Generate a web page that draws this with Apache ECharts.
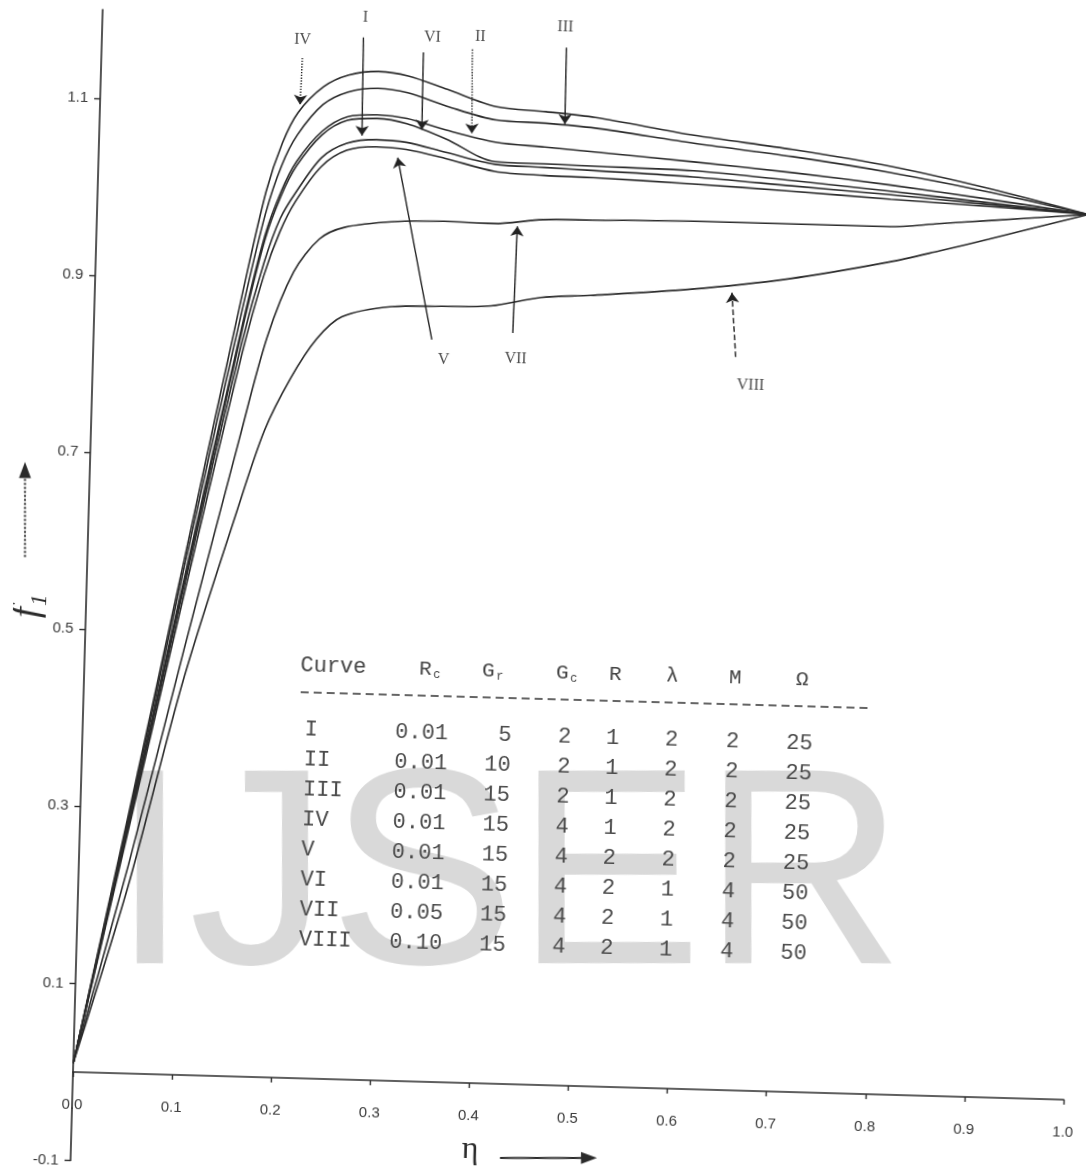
<!DOCTYPE html>
<html>
<head>
<meta charset="utf-8">
<script src="https://cdn.jsdelivr.net/npm/echarts@6/dist/echarts.min.js"></script>
<style>
  html, body { margin: 0; padding: 0; background: #fff; overflow: hidden; }
  /* the scanned figure is slightly turned, so the whole chart is turned about its origin */
  #chart { position: absolute; left: 0; top: 0; width: 1086px; height: 1173px;
           transform-origin: 73px 1072px; transform: rotate(1.6deg); }
</style>
</head>
<body>
<div id="chart"></div>
<script>
// eta grids
const etaMain = [0, 0.05, 0.1, 0.15, 0.17, 0.185, 0.2, 0.225, 0.25, 0.28, 0.31, 0.35, 0.4, 0.45, 0.5, 0.6, 0.7, 0.8, 0.9, 1.0];
const etaLow = [0, 0.05, 0.1, 0.15, 0.175, 0.2, 0.225, 0.25, 0.3, 0.35, 0.4, 0.45, 0.5, 0.6, 0.7, 0.8, 0.85, 0.9, 1.0];

// f1 values
const curveIV = [0.01, 0.30, 0.595, 0.89, 1.0, 1.055, 1.09, 1.12, 1.134, 1.139, 1.135, 1.121, 1.103, 1.099, 1.094, 1.077, 1.064, 1.048, 1.026, 1.0];
const curveIII = [0.01, 0.295, 0.585, 0.87, 0.975, 1.03, 1.065, 1.1, 1.115, 1.12, 1.116, 1.102, 1.088, 1.086, 1.082, 1.068, 1.056, 1.041, 1.022, 1.0];
const curveII = [0.01, 0.29, 0.57, 0.85, 0.95, 1.0, 1.035, 1.07, 1.087, 1.09, 1.087, 1.075, 1.063, 1.059, 1.055, 1.047, 1.038, 1.027, 1.014, 1.0];
const curveVI = [0.01, 0.29, 0.565, 0.845, 0.945, 0.995, 1.03, 1.066, 1.083, 1.086, 1.081, 1.065, 1.041, 1.04, 1.039, 1.037, 1.029, 1.02, 1.01, 1.0];
const curveI = [0.01, 0.285, 0.56, 0.83, 0.92, 0.97, 1.0, 1.04, 1.057, 1.062, 1.06, 1.05, 1.038, 1.036, 1.034, 1.03, 1.023, 1.016, 1.008, 1.0];
const curveV = [0.01, 0.28, 0.55, 0.815, 0.905, 0.955, 0.99, 1.03, 1.049, 1.054, 1.052, 1.043, 1.03, 1.027, 1.026, 1.022, 1.017, 1.011, 1.006, 1.0];
const curveVII = [0.01, 0.235, 0.48, 0.72, 0.835, 0.91, 0.948, 0.962, 0.97, 0.972, 0.971, 0.977, 0.978, 0.98, 0.98, 0.98, 0.985, 0.99, 1.0];
const curveVIII = [0.01, 0.21, 0.445, 0.64, 0.73, 0.79, 0.835, 0.861, 0.874, 0.876, 0.878, 0.889, 0.893, 0.903, 0.918, 0.94, 0.954, 0.969, 1.0];

const yTickValues = [-0.1, 0.1, 0.3, 0.5, 0.7, 0.9, 1.1];

// curve labels: text position, arrow start, arrow tip (data coords)
const noteNames = ['IV', 'I', 'VI', 'II', 'III', 'V', 'VII', 'VIII'];
const noteText = [[0.2024, 1.172], [0.2654, 1.199], [0.3334, 1.179], [0.3818, 1.181], [0.4673, 1.195], [0.3538, 0.816], [0.4264, 0.8185], [0.664, 0.796]];
const noteFrom = [[0.2028, 1.152], [0.2638, 1.177], [0.3247, 1.162], [0.374, 1.167], [0.4688, 1.172], [0.3413, 0.838], [0.4228, 0.848], [0.6483, 0.828]];
const noteTo = [[0.2018, 1.099], [0.2651, 1.066], [0.3254, 1.0748], [0.3759, 1.072], [0.4695, 1.0854], [0.3018, 1.0424], [0.4244, 0.9687], [0.6427, 0.9004]];
const noteDash = ['dotted', 'solid', 'solid', 'dotted', 'solid', 'solid', 'solid', 'dashed'];

// parameter table
const tableHead = ['Curve', 'R', 'G', 'G', 'R', 'λ', 'M', 'Ω'];
const tableSub = ['', 'c', 'r', 'c', '', '', '', ''];
const tableRows = [
  ['I', '0.01', '5', '2', '1', '2', '2', '25'],
  ['II', '0.01', '10', '2', '1', '2', '2', '25'],
  ['III', '0.01', '15', '2', '1', '2', '2', '25'],
  ['IV', '0.01', '15', '4', '1', '2', '2', '25'],
  ['V', '0.01', '15', '4', '2', '2', '2', '25'],
  ['VI', '0.01', '15', '4', '2', '1', '4', '50'],
  ['VII', '0.05', '15', '4', '2', '1', '4', '50'],
  ['VIII', '0.10', '15', '4', '2', '1', '4', '50']
];

const TILT = 1.6 * Math.PI / 180;
const ORIGIN = [73, 1072];
// picture position -> position inside the turned chart
const unrot = (x, y) => {
  const dx = x - ORIGIN[0], dy = y - ORIGIN[1];
  const c = Math.cos(TILT), s = Math.sin(TILT);
  return [ORIGIN[0] + dx * c + dy * s, ORIGIN[1] - dx * s + dy * c];
};

const curves = [
  {name: 'I', eta: etaMain, f: curveI},
  {name: 'II', eta: etaMain, f: curveII},
  {name: 'III', eta: etaMain, f: curveIII},
  {name: 'IV', eta: etaMain, f: curveIV},
  {name: 'V', eta: etaMain, f: curveV},
  {name: 'VI', eta: etaMain, f: curveVI},
  {name: 'VII', eta: etaLow, f: curveVII},
  {name: 'VIII', eta: etaLow, f: curveVIII}
];

const mono = '22px "Liberation Mono", "DejaVu Sans Mono", monospace';
const ink = '#2b2b2b';

// grid: eta 0..1 over 991px, f -0.1..1.2 between top and bottom
const gridTop = 9.4, gridBottom = 12.5;
const fPerPx = 1.3 / (1173 - gridTop - gridBottom);

// table layout (chart frame)
const colX = [295, 412, 502, 555, 603, 662, 723, 790];
const colAlign = ['left', 'center', 'right', 'center', 'center', 'center', 'center', 'center'];
const headX = [289, 414, 477, 551, 604, 661, 724, 791];
const headY = 659;
const rowY0 = 723;
const rowStep = 30;

const graphics = [];

const wm = unrot(111, 886);
graphics.push({
  type: 'text', x: wm[0], y: wm[1], rotation: TILT, z: -10, silent: true,
  style: {text: 'IJSER', font: '280px "Liberation Sans", Arial, sans-serif', fill: '#d9d9d9', align: 'left', verticalAlign: 'middle'}
});

tableHead.forEach((h, i) => {
  graphics.push({type: 'text', x: headX[i], y: headY, z: 20,
    style: {text: h, font: i === 0 ? mono : '21px "Liberation Mono", "DejaVu Sans Mono", monospace', fill: '#444', align: i === 0 ? 'left' : 'center', verticalAlign: 'middle'}});
  if (tableSub[i]) {
    graphics.push({type: 'text', x: headX[i] + 8, y: headY + 6, z: 20,
      style: {text: tableSub[i], font: '12px "Liberation Mono", monospace', fill: '#444', align: 'left', verticalAlign: 'middle'}});
  }
});
graphics.push({type: 'line', z: 20, shape: {x1: 290, y1: 686, x2: 858, y2: 686},
  style: {stroke: '#333', lineWidth: 1.6, lineDash: [8, 5]}});
tableRows.forEach((row, r) => {
  row.forEach((cell, i) => {
    graphics.push({type: 'text', x: colX[i], y: rowY0 + r * rowStep, z: 20,
      style: {text: cell, font: mono, fill: '#4a4a4a', align: colAlign[i], verticalAlign: 'middle'}});
  });
});

// axis names with their arrows
const fPos = unrot(28, 606);
graphics.push({type: 'text', x: fPos[0], y: fPos[1], rotation: Math.PI / 2, z: 20,
  style: {text: 'f₁', font: 'italic 38px "Liberation Serif", "DejaVu Serif", serif', fill: ink, align: 'center', verticalAlign: 'middle'}});
const fa = unrot(25, 557), fb = unrot(25, 476), ft = unrot(25, 462), fl = unrot(19, 478), fr = unrot(31, 478);
graphics.push({type: 'line', z: 20, shape: {x1: fa[0], y1: fa[1], x2: fb[0], y2: fb[1]}, style: {stroke: ink, lineWidth: 2, lineDash: [2, 2]}});
graphics.push({type: 'polygon', z: 20, shape: {points: [ft, fl, fr]}, style: {fill: ink}});

const ePos = unrot(470, 1150);
graphics.push({type: 'text', x: ePos[0], y: ePos[1], z: 20,
  style: {text: 'η', font: '32px "Liberation Serif", "DejaVu Serif", serif', fill: ink, align: 'center', verticalAlign: 'middle'}});
const ea = unrot(500, 1158), eb = unrot(582, 1158), et = unrot(597, 1158), eu = unrot(581, 1152), ed = unrot(581, 1164);
graphics.push({type: 'line', z: 20, shape: {x1: ea[0], y1: ea[1], x2: eb[0], y2: eb[1]}, style: {stroke: ink, lineWidth: 2}});
graphics.push({type: 'polygon', z: 20, shape: {points: [et, eu, ed]}, style: {fill: ink}});

const chart = echarts.init(document.getElementById('chart'), null, {renderer: 'canvas'});

const option = {
  animation: false,
  backgroundColor: 'transparent',
  grid: {left: 73, right: 22, top: gridTop, bottom: gridBottom, containLabel: false, outerBoundsMode: 'none'},
  xAxis: {
    type: 'value', min: 0, max: 1, interval: 0.1,
    position: 'bottom',
    // x axis sits at f = 0, i.e. 0.1 above the bottom of the grid
    offset: -0.1 / fPerPx,
    axisLine: {show: true, onZero: false, lineStyle: {color: ink, width: 1.6}},
    axisTick: {show: true, length: 5, lineStyle: {color: ink, width: 1.4}},
    axisLabel: {margin: 25, fontSize: 15, color: '#3a3a3a', fontFamily: '"Liberation Sans", Arial, sans-serif',
      formatter: v => v.toFixed(1)},
    splitLine: {show: false}
  },
  yAxis: {
    type: 'value', min: -0.1, max: 1.2, interval: 0.2,
    axisLine: {show: true, onZero: false, lineStyle: {color: ink, width: 1.6}},
    axisTick: {show: true, length: 6, customValues: yTickValues, lineStyle: {color: ink, width: 1.4}},
    axisLabel: {margin: 12, fontSize: 15, color: '#3a3a3a', fontFamily: '"Liberation Sans", Arial, sans-serif',
      customValues: yTickValues, formatter: v => v.toFixed(1)},
    splitLine: {show: false}
  },
  graphic: graphics,
  series: curves.map(c => ({
    type: 'line', name: c.name, z: 3,
    data: c.eta.map((x, i) => [x, c.f[i]]),
    smooth: 0.3, showSymbol: false, silent: true,
    lineStyle: {color: ink, width: 1.6}
  })).concat([{
    type: 'scatter', name: 'notes', z: 4, silent: true,
    symbolSize: 1, itemStyle: {color: 'rgba(0,0,0,0)'},
    data: noteNames.map((n, i) => ({name: n, value: noteText[i]})),
    label: {show: true, position: 'inside', formatter: '{b}', color: '#222', fontSize: 16,
      fontFamily: '"Liberation Serif", "DejaVu Serif", serif'},
    markLine: {
      silent: true, animation: false,
      symbol: ['none', 'arrow'], symbolSize: 10,
      label: {show: false},
      lineStyle: {color: '#222', width: 1.4},
      data: noteNames.map((n, i) => [
        {coord: noteFrom[i], lineStyle: {type: noteDash[i], color: '#222', width: 1.4}},
        {coord: noteTo[i]}
      ])
    }
  }])
};

chart.setOption(option);
</script>
</body>
</html>
